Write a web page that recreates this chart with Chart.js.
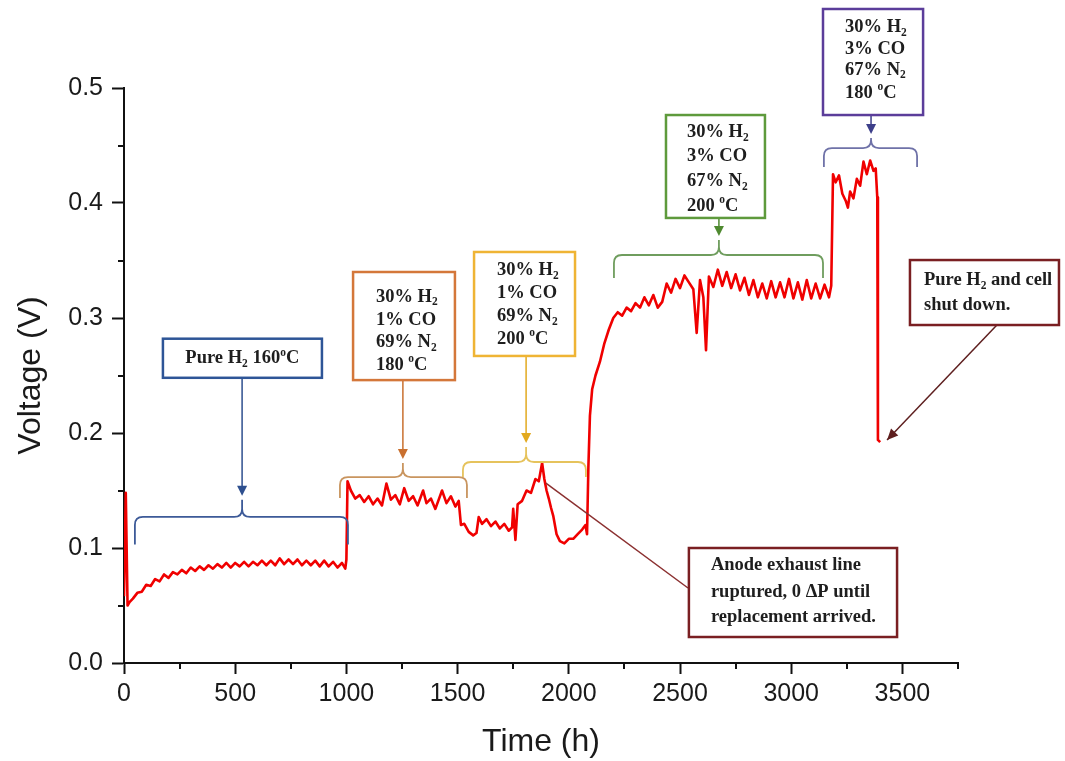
<!DOCTYPE html>
<html><head><meta charset="utf-8">
<script src="https://cdn.jsdelivr.net/npm/chart.js@4.4.1/dist/chart.umd.min.js"></script>
<style>html,body{margin:0;padding:0;background:#fff;} #wrap{width:1065px;height:761px;}</style>
</head><body><div id="wrap"><canvas id="c" width="1065" height="761"></canvas></div>
<script>
// ---- Data (time in h, voltage in V) ----
const pureH2_160_t = [0, 8, 16, 25, 40, 60, 80, 100, 120, 140, 160, 180, 200, 220, 240, 260, 280, 300, 320, 340, 360, 380, 400, 420, 440, 460, 480, 500, 520, 540, 560, 580, 600, 620, 640, 660, 680, 700, 720, 740, 760, 780, 800, 820, 840, 860, 880, 900, 920, 940, 960, 980, 995];
const pureH2_160_v = [0.058, 0.148, 0.050, 0.053, 0.056, 0.061, 0.062, 0.068, 0.067, 0.073, 0.071, 0.077, 0.074, 0.079, 0.077, 0.081, 0.078, 0.083, 0.080, 0.084, 0.081, 0.085, 0.082, 0.086, 0.083, 0.087, 0.083, 0.087, 0.084, 0.088, 0.084, 0.088, 0.085, 0.089, 0.085, 0.089, 0.085, 0.091, 0.086, 0.090, 0.086, 0.090, 0.085, 0.089, 0.085, 0.089, 0.084, 0.089, 0.084, 0.088, 0.083, 0.087, 0.082];

const co1_180_t = [1000, 1005, 1020, 1040, 1060, 1080, 1100, 1120, 1140, 1160, 1180, 1200, 1220, 1240, 1260, 1280, 1300, 1320, 1345, 1360, 1380, 1400, 1430, 1450, 1470, 1490, 1505, 1515];
const co1_180_v = [0.090, 0.158, 0.150, 0.143, 0.146, 0.140, 0.145, 0.138, 0.143, 0.137, 0.156, 0.142, 0.146, 0.138, 0.152, 0.141, 0.145, 0.137, 0.150, 0.139, 0.143, 0.134, 0.150, 0.139, 0.145, 0.136, 0.141, 0.120];

const co1_200_t = [1530, 1550, 1570, 1585, 1595, 1610, 1630, 1650, 1670, 1690, 1710, 1730, 1745, 1750, 1760, 1770, 1790, 1810, 1830, 1850, 1865, 1880, 1890, 1900, 1910, 1920, 1930, 1945, 1960, 1980, 2000, 2020, 2040, 2060, 2075, 2082];
const co1_200_v = [0.121, 0.114, 0.111, 0.113, 0.127, 0.121, 0.125, 0.119, 0.123, 0.117, 0.121, 0.115, 0.118, 0.134, 0.107, 0.138, 0.141, 0.150, 0.148, 0.160, 0.158, 0.174, 0.160, 0.150, 0.143, 0.135, 0.128, 0.112, 0.106, 0.104, 0.108, 0.108, 0.112, 0.116, 0.120, 0.112];

const co3_200_t = [2088, 2095, 2105, 2120, 2140, 2160, 2180, 2200, 2220, 2240, 2260, 2280, 2300, 2320, 2340, 2360, 2380, 2400, 2420, 2440, 2460, 2480, 2500, 2520, 2540, 2560, 2575, 2590, 2605, 2617, 2630, 2650, 2670, 2690, 2710, 2730, 2750, 2770, 2790, 2810, 2830, 2850, 2870, 2890, 2910, 2930, 2950, 2970, 2990, 3010, 3030, 3050, 3070, 3090, 3110, 3130, 3150, 3170, 3180];
const co3_200_v = [0.170, 0.215, 0.238, 0.250, 0.262, 0.278, 0.290, 0.300, 0.305, 0.302, 0.309, 0.306, 0.313, 0.309, 0.318, 0.311, 0.320, 0.309, 0.314, 0.330, 0.322, 0.334, 0.326, 0.337, 0.331, 0.325, 0.287, 0.333, 0.318, 0.272, 0.336, 0.327, 0.342, 0.328, 0.340, 0.326, 0.338, 0.324, 0.335, 0.320, 0.333, 0.318, 0.330, 0.317, 0.332, 0.318, 0.331, 0.318, 0.334, 0.317, 0.331, 0.316, 0.333, 0.317, 0.330, 0.317, 0.329, 0.318, 0.328];

const co3_180_t = [3188, 3200, 3215, 3230, 3245, 3255, 3265, 3280, 3295, 3310, 3325, 3340, 3355, 3370, 3380, 3387];
const co3_180_v = [0.425, 0.418, 0.424, 0.408, 0.402, 0.396, 0.410, 0.404, 0.421, 0.415, 0.436, 0.425, 0.437, 0.428, 0.430, 0.405];

const shutdown_t = [3390, 3400];
const shutdown_v = [0.194, 0.192];

const xTickValues = [0, 500, 1000, 1500, 2000, 2500, 3000, 3500];
const xMinorValues = [250, 750, 1250, 1750, 2250, 2750, 3250, 3750];
const yTickValues = [0, 0.1, 0.2, 0.3, 0.4, 0.5];
const yMinorValues = [0.05, 0.15, 0.25, 0.35, 0.45];

// ---- Build series ----
const segments = [
  [pureH2_160_t, pureH2_160_v], [co1_180_t, co1_180_v], [co1_200_t, co1_200_v],
  [co3_200_t, co3_200_v], [co3_180_t, co3_180_v], [shutdown_t, shutdown_v]
];
const series = [];
segments.forEach(([ts, vs]) => ts.forEach((t, i) => series.push({x: t, y: vs[i]})));

// ---- Annotations (positions in data units: t = hours, v = volts) ----
const SERIF = '"Liberation Serif", "DejaVu Serif", serif';
const H2 = [['30% H','n'],['2','sub']];
const annotations = [
  {box:'#2e5597', br:'#3d5a98', arrow:'#2e4f8f',
   bracket:{t0:49, t1:1007, tc:531, vHook:0.103, vLine:0.127, vTip:0.142},
   rect:{t0:175, t1:890, vTop:0.282, vBot:0.248}, align:'center', textT:532,
   lines:[{v:0.265, parts:[['Pure H','n'],['2','sub'],[' 160','n'],['o','sup'],['C','n']]}]},
  {box:'#d4773a', br:'#c9955f', arrow:'#c9702f',
   bracket:{t0:971, t1:1542, tc:1254, vHook:0.1435, vLine:0.1617, vTip:0.174},
   rect:{t0:1030, t1:1488, vTop:0.340, vBot:0.246}, align:'left', textT:1133,
   lines:[{v:0.3183, parts:H2},{v:0.2983, parts:[['1% CO','n']]},{v:0.2791, parts:[['69% N','n'],['2','sub']]},{v:0.2591, parts:[['180 ','n'],['o','sup'],['C','n']]}]},
  {box:'#efb434', br:'#e6c35c', arrow:'#e2a91f',
   bracket:{t0:1524, t1:2077, tc:1808, vHook:0.1617, vLine:0.1748, vTip:0.1878},
   rect:{t0:1574, t1:2028, vTop:0.3574, vBot:0.267}, align:'left', textT:1677,
   lines:[{v:0.3417, parts:H2},{v:0.3217, parts:[['1% CO','n']]},{v:0.3017, parts:[['69% N','n'],['2','sub']]},{v:0.2817, parts:[['200 ','n'],['o','sup'],['C','n']]}]},
  {box:'#5e9a3c', br:'#6f9d5e', arrow:'#4f8a30',
   bracket:{t0:2203, t1:3143, tc:2675, vHook:0.3348, vLine:0.3548, vTip:0.3678},
   rect:{t0:2437, t1:2882, vTop:0.4765, vBot:0.387}, align:'left', textT:2531,
   lines:[{v:0.4617, parts:H2},{v:0.4409, parts:[['3% CO','n']]},{v:0.4191, parts:[['67% N','n'],['2','sub']]},{v:0.3974, parts:[['200 ','n'],['o','sup'],['C','n']]}]},
  {box:'#5b3d9a', br:'#6f72a8', arrow:'#3d3f8a',
   bracket:{t0:3147, t1:3566, tc:3359, vHook:0.4313, vLine:0.4478, vTip:0.4565},
   rect:{t0:3143, t1:3593, vTop:0.5687, vBot:0.4765}, align:'left', textT:3242,
   lines:[{v:0.553, parts:H2},{v:0.5339, parts:[['3% CO','n']]},{v:0.5157, parts:[['67% N','n'],['2','sub']]},{v:0.4957, parts:[['180 ','n'],['o','sup'],['C','n']]}]}
];
const notes = [
  {box:'#7a1f22', line:'#5e1f1f', head:true, from:{t:3925, v:0.2939}, to:{t:3431, v:0.1939},
   rect:{t0:3534, t1:4204, vTop:0.3504, vBot:0.2939}, textT:3597,
   lines:[{v:0.333, parts:[['Pure H','n'],['2','sub'],[' and cell','n']]},{v:0.3113, parts:[['shut down.','n']]}]},
  {box:'#7a1f22', line:'#8b3030', head:false, from:{t:2536, v:0.0652}, to:{t:1897, v:0.1565},
   rect:{t0:2540, t1:3476, vTop:0.100, vBot:0.0226}, textT:2639,
   lines:[{v:0.0852, parts:[['Anode exhaust line','n']]},{v:0.0617, parts:[['ruptured, 0 ΔP until','n']]},{v:0.040, parts:[['replacement arrived.','n']]}]}
];

function drawRich(ctx, parts, x, y, align, size) {
  const meas = []; let w = 0;
  for (const [txt, m] of parts) {
    const s = m === 'n' ? size : size * 0.62;
    ctx.font = `bold ${s}px ${SERIF}`;
    const mw = ctx.measureText(txt).width;
    meas.push([txt, m, s, mw]); w += mw;
  }
  let cx = align === 'center' ? x - w / 2 : x;
  ctx.textAlign = 'left'; ctx.textBaseline = 'middle';
  for (const [txt, m, s, mw] of meas) {
    ctx.font = `bold ${s}px ${SERIF}`;
    const dy = m === 'sub' ? size * 0.30 : (m === 'sup' ? -size * 0.30 : 0);
    ctx.fillText(txt, cx, y + dy); cx += mw;
  }
}
function arrowHead(ctx, x, y, ang, len, half, color) {
  ctx.save(); ctx.fillStyle = color; ctx.translate(x, y); ctx.rotate(ang);
  ctx.beginPath(); ctx.moveTo(0, 0); ctx.lineTo(-len, -half); ctx.lineTo(-len, half); ctx.closePath(); ctx.fill();
  ctx.restore();
}
function drawBox(ctx, X, Y, r, color) {
  const x0 = X(r.t0), x1 = X(r.t1), y0 = Y(r.vTop), y1 = Y(r.vBot);
  ctx.fillStyle = '#fff'; ctx.fillRect(x0, y0, x1 - x0, y1 - y0);
  ctx.strokeStyle = color; ctx.lineWidth = 2.5; ctx.strokeRect(x0, y0, x1 - x0, y1 - y0);
}

const annotPlugin = {
  id: 'annot',
  afterDraw(chart) {
    const ctx = chart.ctx, xs = chart.scales.x, ys = chart.scales.y;
    const X = t => xs.getPixelForValue(t), Y = v => ys.getPixelForValue(v);
    ctx.save();
    // minor ticks
    ctx.strokeStyle = '#111'; ctx.lineWidth = 2;
    const xb = chart.chartArea.bottom, yl = chart.chartArea.left;
    ctx.beginPath();
    xMinorValues.forEach(t => { const x = Math.round(X(t)); ctx.moveTo(x, xb); ctx.lineTo(x, xb + 6); });
    yMinorValues.forEach(v => { const y = Math.round(Y(v)); ctx.moveTo(yl, y); ctx.lineTo(yl - 6, y); });
    ctx.stroke();

    const FS = 18.5;
    annotations.forEach(a => {
      const b = a.bracket, r = 8;
      const xl = X(b.t0), xr = X(b.t1), xc = X(b.tc), yh = Y(b.vHook), yl2 = Y(b.vLine), yt = Y(b.vTip);
      ctx.strokeStyle = a.br; ctx.lineWidth = 1.8;
      ctx.beginPath();
      ctx.moveTo(xl, yh); ctx.lineTo(xl, yl2 + r); ctx.quadraticCurveTo(xl, yl2, xl + r, yl2);
      ctx.lineTo(xc - r, yl2); ctx.quadraticCurveTo(xc, yl2, xc, yl2 - r); ctx.lineTo(xc, yt);
      ctx.moveTo(xc, yl2 - r); ctx.quadraticCurveTo(xc, yl2, xc + r, yl2);
      ctx.lineTo(xr - r, yl2); ctx.quadraticCurveTo(xr, yl2, xr, yl2 + r); ctx.lineTo(xr, yh);
      ctx.stroke();
      // arrow from box to bracket tip
      const yBox = Y(a.rect.vBot), tipY = yt - 4;
      ctx.strokeStyle = a.arrow; ctx.lineWidth = 1.5;
      ctx.beginPath(); ctx.moveTo(xc, yBox); ctx.lineTo(xc, tipY - 4); ctx.stroke();
      arrowHead(ctx, xc, tipY, Math.PI / 2, 10, 5, a.arrow);
      drawBox(ctx, X, Y, a.rect, a.box);
      ctx.fillStyle = '#1e1e1e';
      a.lines.forEach(l => drawRich(ctx, l.parts, X(a.textT), Y(l.v), a.align, FS));
    });
    notes.forEach(n => {
      const fx = X(n.from.t), fy = Y(n.from.v), tx = X(n.to.t), ty = Y(n.to.v);
      ctx.strokeStyle = n.line; ctx.lineWidth = 1.5;
      ctx.beginPath(); ctx.moveTo(fx, fy); ctx.lineTo(tx, ty); ctx.stroke();
      if (n.head) arrowHead(ctx, tx, ty, Math.atan2(ty - fy, tx - fx), 11, 5, n.line);
      drawBox(ctx, X, Y, n.rect, n.box);
      ctx.fillStyle = '#1e1e1e';
      n.lines.forEach(l => drawRich(ctx, l.parts, X(n.textT), Y(l.v), 'left', FS));
    });
    ctx.restore();
  }
};

const SANS = '"Liberation Sans", Arial, sans-serif';
new Chart(document.getElementById('c'), {
  type: 'line',
  data: { datasets: [{ data: series, borderColor: '#f00000', borderWidth: 2.6, borderJoinStyle: 'round', pointRadius: 0, tension: 0, fill: false }] },
  options: {
    responsive: false, animation: false, parsing: true,
    layout: { padding: { left: 0, top: 88, right: 107, bottom: 0 } },
    plugins: { legend: { display: false }, tooltip: { enabled: false } },
    scales: {
      x: {
        type: 'linear', min: 0, max: 3750,
        afterFit: s => { s.height = 98; },
        afterBuildTicks: s => { s.ticks = xTickValues.map(v => ({ value: v })); },
        ticks: { color: '#1a1a1a', font: { family: SANS, size: 25 }, padding: 5, maxRotation: 0, autoSkip: false,
                 callback: v => String(v) },
        grid: { drawOnChartArea: false, drawTicks: true, tickLength: 11, tickColor: '#111', tickWidth: 2 },
        border: { display: true, color: '#111', width: 2 },
        title: { display: true, text: 'Time (h)', color: '#1a1a1a', font: { family: SANS, size: 32 }, padding: { top: 0, bottom: 0 } }
      },
      y: {
        type: 'linear', min: 0, max: 0.5,
        afterFit: s => { s.width = 124; },
        afterBuildTicks: s => { s.ticks = yTickValues.map(v => ({ value: v })); },
        ticks: { color: '#1a1a1a', font: { family: SANS, size: 25 }, padding: 9, callback: v => Number(v).toFixed(1) },
        grid: { drawOnChartArea: false, drawTicks: true, tickLength: 12, tickColor: '#111', tickWidth: 2 },
        border: { display: true, color: '#111', width: 2 },
        title: { display: true, text: 'Voltage (V)', color: '#1a1a1a', font: { family: SANS, size: 32 }, padding: { top: 12, bottom: 0 } }
      }
    }
  },
  plugins: [annotPlugin]
});
</script>
</body></html>
